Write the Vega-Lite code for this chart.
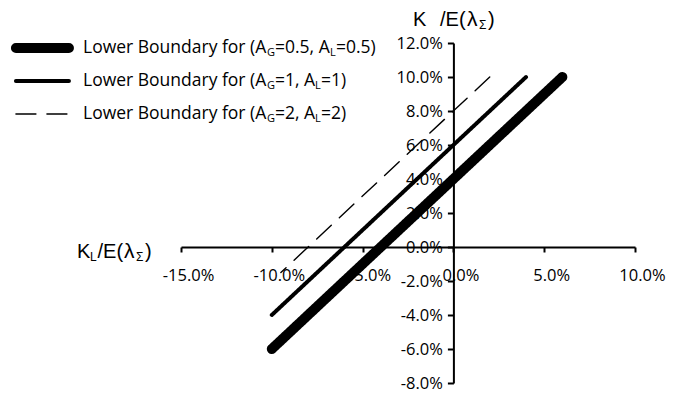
{
  "$schema": "https://vega.github.io/schema/vega-lite/v6.json",
  "width": 454,
  "height": 340,
  "autosize": {"type": "none"},
  "padding": {"left": 181, "top": 43, "right": 57, "bottom": 14},
  "background": "white",
  "config": {
    "view": {"stroke": null},
    "locale": {"number": {"decimal": ".", "thousands": ",", "grouping": [3], "currency": ["$", ""], "minus": "-"}},
    "text": {"color": "black"}
  },
  "datasets": {
    "bounds": [
      {"s": "0.5", "x": -0.10, "y": -0.06},
      {"s": "0.5", "x": 0.06, "y": 0.10},
      {"s": "1", "x": -0.10, "y": -0.04},
      {"s": "1", "x": 0.04, "y": 0.10},
      {"s": "2", "x": -0.095, "y": -0.015},
      {"s": "2", "x": 0.02, "y": 0.10}
    ],
    "legend": [
      {"s": "0.5", "mid": "=0.5, A", "end": "=0.5)"},
      {"s": "1", "mid": "=1, A", "end": "=1)"},
      {"s": "2", "mid": "=2, A", "end": "=2)"}
    ],
    "one": [{}]
  },
  "resolve": {"scale": {"y": "independent"}},
  "layer": [
    {
      "data": {"name": "bounds"},
      "mark": {"type": "line", "color": "black", "strokeCap": "round"},
      "encoding": {
        "x": {
          "field": "x", "type": "quantitative",
          "scale": {"domain": [-0.15, 0.10], "nice": false, "zero": false},
          "axis": {
            "orient": "bottom", "offset": -136, "title": null, "grid": false,
            "values": [-0.15, -0.10, -0.05, 0, 0.05, 0.10], "format": ".1%",
            "domainColor": "black", "domainWidth": 2,
            "tickColor": "black", "tickWidth": 2, "tickSize": 5,
            "labelColor": "black", "labelFont": "Open Sans", "labelFontSize": 16.5,
            "labelPadding": 15, "labelOffset": 7, "labelFlush": false, "labelOverlap": false
          }
        },
        "y": {
          "field": "y", "type": "quantitative",
          "scale": {"domain": [-0.08, 0.12], "nice": false, "zero": false},
          "axis": {
            "orient": "left", "offset": -272.4, "title": null, "grid": false,
            "values": [-0.08, -0.06, -0.04, -0.02, 0, 0.02, 0.04, 0.06, 0.08, 0.10, 0.12], "format": ".1%",
            "domainColor": "black", "domainWidth": 2,
            "tickColor": "black", "tickWidth": 2, "tickSize": 6,
            "labelColor": "black", "labelFont": "Open Sans", "labelFontSize": 16.5,
            "labelPadding": 5, "labelFlush": false, "labelOverlap": false
          }
        },
        "detail": {"field": "s"},
        "order": {"field": "y", "sort": "descending"},
        "strokeWidth": {"field": "s", "type": "nominal", "scale": {"type": "ordinal", "domain": ["0.5", "1", "2"], "range": [10, 4, 1.4]}, "legend": null},
        "strokeDash": {"field": "s", "type": "nominal", "scale": {"domain": ["0.5", "1", "2"], "range": [[1, 0], [1, 0], [20, 11]]}, "legend": null}
      }
    },
    {
      "data": {"name": "legend"},
      "mark": {"type": "rule", "color": "black", "strokeCap": "round"},
      "encoding": {
        "x": {"datum": -0.2409},
        "x2": {"datum": -0.2117},
        "y": {"field": "s", "type": "nominal", "scale": {"type": "point", "domain": ["0.5", "1", "2"], "range": [5, 71], "padding": 0}, "axis": null},
        "strokeWidth": {"field": "s", "type": "nominal", "scale": {"type": "ordinal", "domain": ["0.5", "1", "2"], "range": [9, 4, 1.4]}, "legend": null},
        "strokeDash": {"field": "s", "type": "nominal", "scale": {"domain": ["0.5", "1", "2"], "range": [[1, 0], [1, 0], [12, 6, 36, 6]]}, "legend": null}
      }
    },
    {
      "data": {"name": "legend"},
      "mark": {"type": "text", "align": "left", "baseline": "middle", "font": "Open Sans", "fontSize": 17.5},
      "encoding": {
        "x": {"datum": -0.20396},
        "y": {"field": "s", "type": "nominal", "scale": {"type": "point", "domain": ["0.5", "1", "2"], "range": [5, 71], "padding": 0}, "axis": null},
        "text": {"value": "Lower Boundary for (A"}
      }
    },
    {
      "data": {"name": "legend"},
      "mark": {"type": "text", "align": "left", "baseline": "middle", "font": "Open Sans", "fontSize": 11, "dy": 5},
      "encoding": {
        "x": {"datum": -0.10264},
        "y": {"field": "s", "type": "nominal", "scale": {"type": "point", "domain": ["0.5", "1", "2"], "range": [5, 71], "padding": 0}, "axis": null},
        "text": {"value": "G"}
      }
    },
    {
      "data": {"name": "legend"},
      "mark": {"type": "text", "align": "left", "baseline": "middle", "font": "Open Sans", "fontSize": 17.5},
      "encoding": {
        "x": {"datum": -0.09824},
        "y": {"field": "s", "type": "nominal", "scale": {"type": "point", "domain": ["0.5", "1", "2"], "range": [5, 71], "padding": 0}, "axis": null},
        "text": {"field": "mid"}
      }
    },
    {
      "data": {"name": "legend"},
      "transform": [{"filter": "datum.s === '0.5'"}],
      "mark": {"type": "text", "align": "left", "baseline": "middle", "font": "Open Sans", "fontSize": 11, "dy": 5},
      "encoding": {
        "x": {"datum": -0.06795},
        "y": {"field": "s", "type": "nominal", "scale": {"type": "point", "domain": ["0.5", "1", "2"], "range": [5, 71], "padding": 0}, "axis": null},
        "text": {"value": "L"}
      }
    },
    {
      "data": {"name": "legend"},
      "transform": [{"filter": "datum.s === '0.5'"}],
      "mark": {"type": "text", "align": "left", "baseline": "middle", "font": "Open Sans", "fontSize": 17.5},
      "encoding": {
        "x": {"datum": -0.06465},
        "y": {"field": "s", "type": "nominal", "scale": {"type": "point", "domain": ["0.5", "1", "2"], "range": [5, 71], "padding": 0}, "axis": null},
        "text": {"field": "end"}
      }
    },
    {
      "data": {"name": "legend"},
      "transform": [{"filter": "datum.s !== '0.5'"}],
      "mark": {"type": "text", "align": "left", "baseline": "middle", "font": "Open Sans", "fontSize": 11, "dy": 5},
      "encoding": {
        "x": {"datum": -0.07621},
        "y": {"field": "s", "type": "nominal", "scale": {"type": "point", "domain": ["0.5", "1", "2"], "range": [5, 71], "padding": 0}, "axis": null},
        "text": {"value": "L"}
      }
    },
    {
      "data": {"name": "legend"},
      "transform": [{"filter": "datum.s !== '0.5'"}],
      "mark": {"type": "text", "align": "left", "baseline": "middle", "font": "Open Sans", "fontSize": 17.5},
      "encoding": {
        "x": {"datum": -0.07291},
        "y": {"field": "s", "type": "nominal", "scale": {"type": "point", "domain": ["0.5", "1", "2"], "range": [5, 71], "padding": 0}, "axis": null},
        "text": {"field": "end"}
      }
    },
    {
      "data": {"name": "one"},
      "mark": {"type": "text", "align": "left", "baseline": "middle", "font": "Liberation Sans", "fontSize": 20},
      "encoding": {
        "x": {"datum": -0.20727},
        "y": {"datum": -0.00294, "scale": {"domain": [-0.08, 0.12], "nice": false, "zero": false}, "axis": null},
        "text": {"value": "K"}
      }
    },
    {
      "data": {"name": "one"},
      "mark": {"type": "text", "align": "left", "baseline": "middle", "font": "Liberation Sans", "fontSize": 12, "dy": 5},
      "encoding": {
        "x": {"datum": -0.20011},
        "y": {"datum": -0.00294, "scale": {"domain": [-0.08, 0.12], "nice": false, "zero": false}, "axis": null},
        "text": {"value": "L"}
      }
    },
    {
      "data": {"name": "one"},
      "mark": {"type": "text", "align": "left", "baseline": "middle", "font": "Liberation Sans", "fontSize": 20},
      "encoding": {
        "x": {"datum": -0.19598},
        "y": {"datum": -0.00294, "scale": {"domain": [-0.08, 0.12], "nice": false, "zero": false}, "axis": null},
        "text": {"value": "/E("}
      }
    },
    {
      "data": {"name": "one"},
      "mark": {"type": "text", "align": "left", "baseline": "middle", "font": "Liberation Sans", "fontSize": 21},
      "encoding": {
        "x": {"datum": -0.18139},
        "y": {"datum": -0.00294, "scale": {"domain": [-0.08, 0.12], "nice": false, "zero": false}, "axis": null},
        "text": {"value": "λ"}
      }
    },
    {
      "data": {"name": "one"},
      "mark": {"type": "text", "align": "left", "baseline": "middle", "font": "Liberation Sans", "fontSize": 12, "dy": 5},
      "encoding": {
        "x": {"datum": -0.17478},
        "y": {"datum": -0.00294, "scale": {"domain": [-0.08, 0.12], "nice": false, "zero": false}, "axis": null},
        "text": {"value": "Σ"}
      }
    },
    {
      "data": {"name": "one"},
      "mark": {"type": "text", "align": "left", "baseline": "middle", "font": "Liberation Sans", "fontSize": 20},
      "encoding": {
        "x": {"datum": -0.16982},
        "y": {"datum": -0.00294, "scale": {"domain": [-0.08, 0.12], "nice": false, "zero": false}, "axis": null},
        "text": {"value": ")"}
      }
    },
    {
      "data": {"name": "one"},
      "mark": {"type": "text", "align": "left", "baseline": "middle", "font": "Liberation Sans", "fontSize": 20},
      "encoding": {
        "x": {"datum": -0.02225},
        "y": {"datum": 0.13353, "scale": {"domain": [-0.08, 0.12], "nice": false, "zero": false}, "axis": null},
        "text": {"value": "K"}
      }
    },
    {
      "data": {"name": "one"},
      "mark": {"type": "text", "align": "left", "baseline": "middle", "font": "Liberation Sans", "fontSize": 20},
      "encoding": {
        "x": {"datum": -0.00738},
        "y": {"datum": 0.13353, "scale": {"domain": [-0.08, 0.12], "nice": false, "zero": false}, "axis": null},
        "text": {"value": "/E("}
      }
    },
    {
      "data": {"name": "one"},
      "mark": {"type": "text", "align": "left", "baseline": "middle", "font": "Liberation Sans", "fontSize": 21},
      "encoding": {
        "x": {"datum": 0.00749},
        "y": {"datum": 0.13353, "scale": {"domain": [-0.08, 0.12], "nice": false, "zero": false}, "axis": null},
        "text": {"value": "λ"}
      }
    },
    {
      "data": {"name": "one"},
      "mark": {"type": "text", "align": "left", "baseline": "middle", "font": "Liberation Sans", "fontSize": 12, "dy": 5},
      "encoding": {
        "x": {"datum": 0.01410},
        "y": {"datum": 0.13353, "scale": {"domain": [-0.08, 0.12], "nice": false, "zero": false}, "axis": null},
        "text": {"value": "Σ"}
      }
    },
    {
      "data": {"name": "one"},
      "mark": {"type": "text", "align": "left", "baseline": "middle", "font": "Liberation Sans", "fontSize": 20},
      "encoding": {
        "x": {"datum": 0.01906},
        "y": {"datum": 0.13353, "scale": {"domain": [-0.08, 0.12], "nice": false, "zero": false}, "axis": null},
        "text": {"value": ")"}
      }
    }
  ]
}
